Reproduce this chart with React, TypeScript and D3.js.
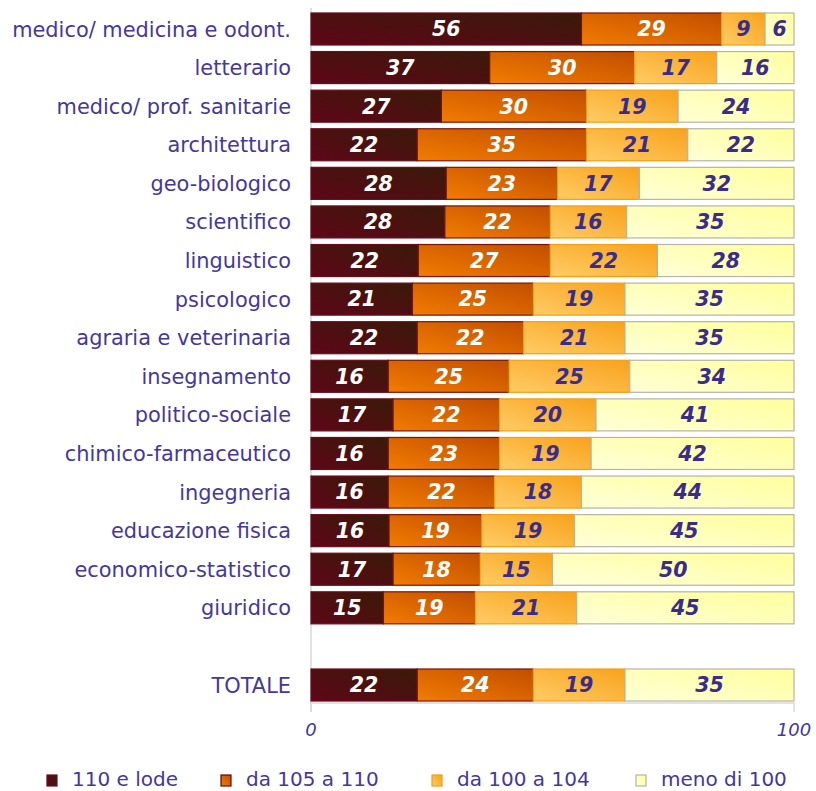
import React from "react";
import * as d3 from "d3";

const categories = [
  "medico/ medicina e odont.",
  "letterario",
  "medico/ prof. sanitarie",
  "architettura",
  "geo-biologico",
  "scientifico",
  "linguistico",
  "psicologico",
  "agraria e veterinaria",
  "insegnamento",
  "politico-sociale",
  "chimico-farmaceutico",
  "ingegneria",
  "educazione fisica",
  "economico-statistico",
  "giuridico",
  "",
  "TOTALE",
];
const lode = [56, 37, 27, 22, 28, 28, 22, 21, 22, 16, 17, 16, 16, 16, 17, 15, null, 22];
const da105 = [29, 30, 30, 35, 23, 22, 27, 25, 22, 25, 22, 23, 22, 19, 18, 19, null, 24];
const da100 = [9, 17, 19, 21, 17, 16, 22, 19, 21, 25, 20, 19, 18, 19, 15, 21, null, 19];
const meno = [6, 16, 24, 22, 32, 35, 28, 35, 35, 34, 41, 42, 44, 45, 50, 45, null, 35];
const seriesNames = ["110 e lode", "da 105 a 110", "da 100 a 104", "meno di 100"];
const xTicks = [0, 100];

const W = 816, H = 791;
const textColor = "#45389a";
const grads = [
  { id: "g0", c1: "#5e0618", c2: "#3a1a08", stroke: "#6a0c1c", label: "#ffffff" },
  { id: "g1", c1: "#f27c00", c2: "#c24e00", stroke: "#7a1400", label: "#ffffff" },
  { id: "g2", c1: "#ffcc66", c2: "#f8a21c", stroke: "#f0a010", label: "#3a2c8c" },
  { id: "g3", c1: "#ffffd8", c2: "#ffff9c", stroke: "#b4b4a8", label: "#3a2c8c" },
];
const legendX = [47, 221, 432, 636];

export default function App() {
  const x = d3.scaleLinear().domain([0, 100]).range([311, 794]);
  const y = d3.scaleBand<number>().domain(d3.range(categories.length)).range([9.7, 704.3]).paddingInner(0.17).paddingOuter(0.085);
  const data = [lode, da105, da100, meno];
  const font = "'DejaVu Sans', Verdana, sans-serif";
  return (
    <svg width={W} height={H} style={{ display: "block", position: "absolute", left: 0, top: 0 }} fontFamily={font}>
      <defs>
        {grads.map((g) => (
          <linearGradient key={g.id} id={g.id} x1="0" y1="1" x2="1" y2="0">
            <stop offset="0" stopColor={g.c1} />
            <stop offset="1" stopColor={g.c2} />
          </linearGradient>
        ))}
      </defs>
      <rect width={W} height={H} fill="#fff" />
      <line x1={311} x2={311} y1={8} y2={712} stroke="#d8d8d8" strokeWidth={1.5} />
      <line x1={311} x2={794} y1={703} y2={703} stroke="#d8d8d8" strokeWidth={1.5} />
      {xTicks.map((t) => (
        <g key={t}>
          <line x1={x(t)} x2={x(t)} y1={703} y2={712} stroke="#d8d8d8" strokeWidth={1.5} />
          <text x={x(t)} y={736} textAnchor="middle" fontSize={18} fontStyle="italic" fill={textColor}>{t}</text>
        </g>
      ))}
      {categories.map((c, i) => {
        const yy = y(i)!;
        const bh = y.bandwidth();
        const vals = data.map((s) => s[i]);
        const total = d3.sum(vals.map((v) => v ?? 0));
        let acc = 0;
        return (
          <g key={i}>
            <text x={291} y={yy + bh / 2} dy="0.36em" textAnchor="end" fontSize={20.9} fill={textColor}>{c}</text>
            {vals.map((v, k) => {
              if (v == null) return null;
              const x0 = x((acc / total) * 100);
              acc += v;
              const x1 = x((acc / total) * 100);
              const g = grads[k];
              return (
                <g key={k}>
                  <rect x={x0} y={yy} width={x1 - x0} height={bh} fill={`url(#${g.id})`} stroke={g.stroke} strokeWidth={1.2} />
                  <text x={(x0 + x1) / 2} y={yy + bh / 2} dy="0.36em" textAnchor="middle" fontSize={20.5} fontWeight="bold" fontStyle="italic" fill={g.label}>{v}</text>
                </g>
              );
            })}
          </g>
        );
      })}
      {seriesNames.map((n, k) => {
        const lx = legendX[k];
        const g = grads[k];
        return (
          <g key={n}>
            <rect x={lx} y={775} width={10} height={11} fill={`url(#${g.id})`} stroke={k === 1 ? "#5a0a10" : g.stroke} strokeWidth={1.2} />
            <text x={lx + 25} y={786} fontSize={20} fill={textColor}>{n}</text>
          </g>
        );
      })}
    </svg>
  );
}
